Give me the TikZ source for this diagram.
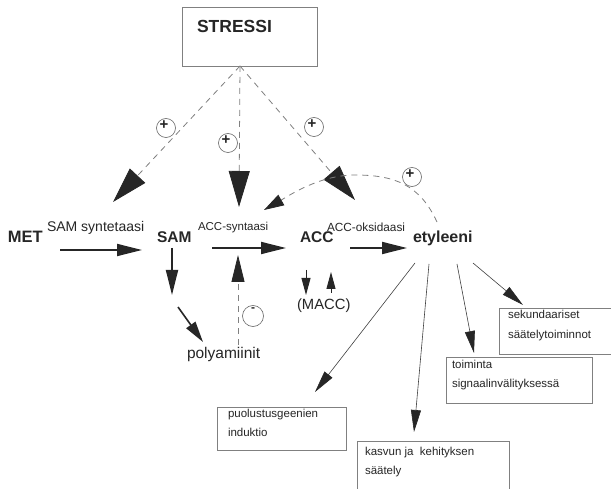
\documentclass[tikz,border=0pt]{standalone}
\usepackage{fontspec}
\setmainfont{Liberation Sans}
\usetikzlibrary{arrows.meta}
\begin{document}
\begin{tikzpicture}[x=1pt,y=-1pt,
  every node/.style={inner sep=0pt, outer sep=0pt},
  frame/.style={draw=black!50, line width=0.7pt, anchor=north west},
  boxtxt/.style={font=\fontsize{11.5}{14}\selectfont, anchor=base west, text=black!85},
  enz/.style={font=\fontsize{11.5}{14}\selectfont, anchor=base west, text=black!85},
  chem/.style={font=\fontsize{15.5}{18}\selectfont\bfseries, anchor=base west, text=black!85},
  sign/.style={draw=black!60, line width=0.6pt, circle, minimum size=19pt},
  signtxt/.style={font=\fontsize{15}{15}\selectfont\bfseries, text=black!85},
  mainarr/.style={line width=1.8pt, draw=black!85, -{Triangle[length=25pt,width=12pt,color=black!85]}},
  midarr/.style={line width=1.6pt, draw=black!85, -{Triangle[length=21pt,width=11pt,color=black!85]}},
  smallarr/.style={line width=0.9pt, draw=black!85, -{Triangle[length=17pt,width=9pt,color=black!85]}},
  thinarr/.style={line width=0.6pt, draw=black!75, -{Triangle[length=22pt,width=10pt,color=black!85]}},
  dashln/.style={line width=0.8pt, draw=black!50, dash pattern=on 6pt off 5pt},
  stressarr/.style={dashln, -{Triangle[length=36pt,width=21pt,color=black!85]}},
  curvearr/.style={dashln, -{Triangle[length=20pt,width=12pt,color=black!85]}},
  inhibarr/.style={dashln, -{Triangle[length=27pt,width=13pt,color=black!85]}}
]
\useasboundingbox[fill=white] (0,0) rectangle (611,489);

% stress box
\node[frame, minimum width=135pt, minimum height=59pt] (stress) at (182,7) {};
\node[font=\fontsize{17.5}{20}\selectfont\bfseries, anchor=base west, text=black!85] (stresslbl) at (197,33) {STRESSI};

% metabolites and enzymes
\node[chem, font=\fontsize{16.5}{18}\selectfont\bfseries] (met) at (8,243) {MET};
\node[enz, font=\fontsize{14}{16}\selectfont] (samsyn) at (47,232) {SAM syntetaasi};
\node[chem] (sam) at (157,243) {SAM};
\node[enz] (accsyn) at (198,231) {ACC-syntaasi};
\node[chem] (acc) at (300,243) {ACC};
\node[enz, font=\fontsize{11.8}{14}\selectfont] (accoks) at (327,232) {ACC-oksidaasi};
\node[chem, font=\fontsize{16}{18}\selectfont\bfseries] (ety) at (413,243) {etyleeni};
\node[font=\fontsize{15.5}{18}\selectfont, anchor=base west, text=black!85] (poly) at (187,359) {polyamiinit};
\node[font=\fontsize{14.8}{18}\selectfont, anchor=base west, text=black!85] (macc) at (297,310) {(MACC)};

% response boxes
\node[frame, minimum width=129pt, minimum height=43pt] (puol) at (217,407) {};
\node[boxtxt] (puol1) at (228,417) {puolustusgeenien};
\node[boxtxt] (puol2) at (228,436) {induktio};
\node[frame, minimum width=152pt, minimum height=60pt] (kasv) at (357,441) {};
\node[boxtxt] (kasv1) at (365,455) {kasvun ja\ \ kehityksen};
\node[boxtxt] (kasv2) at (365,474) {säätely};
\node[frame, minimum width=146pt, minimum height=46pt] (toim) at (446,357) {};
\node[boxtxt] (toim1) at (452,369) {toiminta};
\node[boxtxt] (toim2) at (452,388) {signaalinvälityksessä};
\node[frame, minimum width=130pt, minimum height=46pt] (seku) at (499,308) {};
\node[boxtxt] (seku1) at (508,319) {sekundaariset};
\node[boxtxt] (seku2) at (508,338) {säätelytoiminnot};

% signs of the regulation
\node[sign] (c1) at (166,128) {};
\node[signtxt] (c1s) at (164,125) {+};
\node[sign] (c2) at (228,143) {};
\node[signtxt] (c2s) at (226,140) {+};
\node[sign] (c3) at (314,127) {};
\node[signtxt] (c3s) at (312,124) {+};
\node[sign] (c4) at (412,177) {};
\node[signtxt] (c4s) at (410,174) {+};
\node[sign, minimum size=21pt] (c5) at (253,316) {};
\node[signtxt, font=\fontsize{12}{12}\selectfont\bfseries] (c5s) at (253,310) {-};

% connector end points
\coordinate (s0) at (240,66);
\coordinate (sL) at (113,202);
\coordinate (sM) at (239,207);
\coordinate (sR) at (355,200);
\coordinate (a1) at (60,250);   \coordinate (a1e) at (142,250);
\coordinate (a2) at (212,248);  \coordinate (a2e) at (286,248);
\coordinate (a3) at (350,248);  \coordinate (a3e) at (407,248);
\coordinate (d1) at (172,248);  \coordinate (d1e) at (172,295);
\coordinate (p1) at (178,307);  \coordinate (p1e) at (203,342);
\coordinate (i1) at (238,345);  \coordinate (i1e) at (238,255);
\coordinate (m1) at (306,270);  \coordinate (m1e) at (306,295);
\coordinate (m2) at (331,293);  \coordinate (m2e) at (331,272);
\coordinate (e0) at (437,222);  \coordinate (ep) at (355,175);  \coordinate (e1) at (264,210);
\coordinate (r1) at (415,263);  \coordinate (r1e) at (315,392);
\coordinate (r2) at (429,264);  \coordinate (r2e) at (414,432);
\coordinate (r3) at (457,264);  \coordinate (r3e) at (474,353);
\coordinate (r4) at (473,263);  \coordinate (r4e) at (523,305);

% stress effects
\draw[stressarr] (s0) -- (sL);
\draw[stressarr] (s0) -- (sM);
\draw[stressarr] (s0) -- (sR);

% biosynthesis pathway
\draw[mainarr] (a1) -- (a1e);
\draw[mainarr] (a2) -- (a2e);
\draw[mainarr] (a3) -- (a3e);
\draw[mainarr] (d1) -- (d1e);
\draw[midarr] (p1) -- (p1e);
\draw[inhibarr] (i1) -- (i1e);
\draw[smallarr] (m1) -- (m1e);
\draw[smallarr] (m2) -- (m2e);

% ethylene feedback
\draw[curvearr] (e0) .. controls (420,185) and (395,175) .. (ep)
                     .. controls (320,175) and (290,195) .. (e1);

% ethylene responses
\draw[thinarr] (r1) -- (r1e);
\draw[thinarr] (r2) -- (r2e);
\draw[thinarr] (r3) -- (r3e);
\draw[thinarr] (r4) -- (r4e);
\end{tikzpicture}
\end{document}
